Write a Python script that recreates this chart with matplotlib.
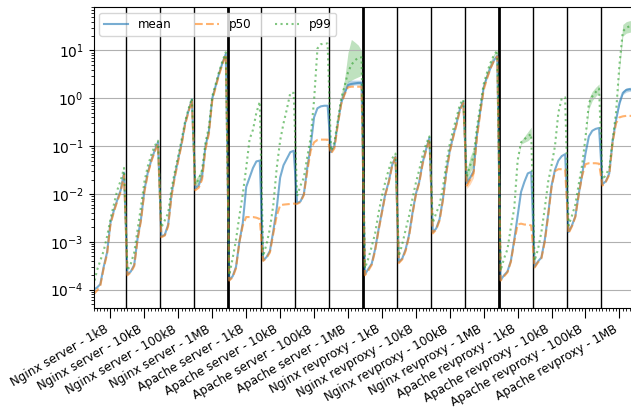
import matplotlib
matplotlib.use('Agg')
import matplotlib.pyplot as plt
import numpy as np

servers = ['Nginx server', 'Apache server', 'Nginx revproxy', 'Apache revproxy']
sizes = ['1kB', '10kB', '100kB', '1MB']
labels = [f'{s} - {z}' for s in servers for z in sizes]
n_pts = 10  # points per benchmark

# latency values, 10 points per benchmark, in label order
mean = [
    1.0e-4, 1.1e-4, 1.3e-4, 3.0e-4, 6.0e-4, 2.5e-3, 4.5e-3, 7.5e-3, 1.2e-2, 2.8e-2,
    2.1e-4, 2.4e-4, 3.3e-4, 1.2e-3, 3.0e-3, 1.2e-2, 2.8e-2, 5.0e-2, 8.0e-2, 0.12,
    1.3e-3, 1.4e-3, 2.3e-3, 1.0e-2, 2.5e-2, 5.5e-2, 0.12, 0.30, 0.55, 0.95,
    1.3e-2, 1.5e-2, 2.3e-2, 0.10, 0.20, 1.0, 1.8, 3.3, 5.5, 8.5,
    1.6e-4, 1.9e-4, 3.0e-4, 1.0e-3, 2.5e-3, 1.4e-2, 2.2e-2, 3.5e-2, 4.8e-2, 5.0e-2,
    4.1e-4, 4.8e-4, 6.5e-4, 1.7e-3, 5.0e-3, 2.2e-2, 4.0e-2, 5.5e-2, 7.5e-2, 8.0e-2,
    6.5e-3, 7.0e-3, 1.0e-2, 3.5e-2, 0.10, 0.40, 0.62, 0.68, 0.70, 0.70,
    7.5e-2, 0.10, 0.30, 0.80, 1.3, 1.9, 2.0, 2.05, 2.1, 2.1,
    2.1e-4, 2.7e-4, 3.5e-4, 7.0e-4, 1.8e-3, 4.3e-3, 1.0e-2, 1.8e-2, 4.0e-2, 6.0e-2,
    3.8e-4, 4.5e-4, 7.0e-4, 1.4e-3, 4.0e-3, 1.0e-2, 1.8e-2, 4.5e-2, 8.5e-2, 0.15,
    1.6e-3, 1.9e-3, 3.0e-3, 8.0e-3, 3.0e-2, 8.0e-2, 0.16, 0.30, 0.60, 0.85,
    1.7e-2, 2.2e-2, 3.0e-2, 0.17, 0.55, 1.7, 2.8, 4.3, 6.2, 7.8,
    1.6e-4, 2.0e-4, 2.4e-4, 4.0e-4, 1.1e-3, 3.5e-3, 1.1e-2, 1.8e-2, 2.7e-2, 2.9e-2,
    3.0e-4, 3.9e-4, 4.7e-4, 1.1e-3, 3.8e-3, 1.5e-2, 3.2e-2, 5.0e-2, 6.2e-2, 6.8e-2,
    1.6e-3, 2.2e-3, 3.4e-3, 1.0e-2, 2.5e-2, 7.0e-2, 0.16, 0.21, 0.23, 0.24,
    1.6e-2, 1.85e-2, 2.7e-2, 0.13, 0.35, 0.80, 1.3, 1.5, 1.55, 1.5,
]

p50 = [
    8.0e-5, 9.5e-5, 1.2e-4, 2.8e-4, 5.5e-4, 2.3e-3, 4.2e-3, 7.0e-3, 1.1e-2, 2.5e-2,
    2.0e-4, 2.3e-4, 3.1e-4, 1.1e-3, 2.8e-3, 1.1e-2, 2.6e-2, 4.7e-2, 7.5e-2, 0.11,
    1.25e-3, 1.35e-3, 2.1e-3, 9.0e-3, 2.3e-2, 5.0e-2, 0.11, 0.28, 0.52, 0.90,
    1.2e-2, 1.35e-2, 2.0e-2, 8.5e-2, 0.18, 0.90, 1.7, 3.1, 5.2, 8.2,
    1.55e-4, 1.8e-4, 2.8e-4, 1.0e-3, 2.2e-3, 3.3e-3, 3.3e-3, 3.3e-3, 3.2e-3, 3.0e-3,
    4.0e-4, 4.6e-4, 6.0e-4, 1.5e-3, 3.5e-3, 5.8e-3, 6.0e-3, 6.1e-3, 6.2e-3, 6.3e-3,
    6.2e-3, 6.8e-3, 9.5e-3, 3.0e-2, 8.0e-2, 0.12, 0.135, 0.137, 0.137, 0.137,
    7.0e-2, 9.0e-2, 0.28, 0.75, 1.2, 1.7, 1.75, 1.75, 1.75, 1.75,
    2.0e-4, 2.5e-4, 3.3e-4, 6.5e-4, 1.7e-3, 4.0e-3, 9.5e-3, 1.7e-2, 3.8e-2, 5.8e-2,
    3.6e-4, 4.3e-4, 6.5e-4, 1.3e-3, 3.7e-3, 9.5e-3, 1.7e-2, 4.2e-2, 8.0e-2, 0.14,
    1.5e-3, 1.8e-3, 2.8e-3, 7.5e-3, 2.8e-2, 7.5e-2, 0.15, 0.28, 0.57, 0.80,
    1.5e-2, 2.0e-2, 2.7e-2, 0.15, 0.50, 1.5, 2.6, 4.2, 6.0, 7.5,
    1.55e-4, 1.9e-4, 2.3e-4, 3.8e-4, 1.0e-3, 2.3e-3, 2.4e-3, 2.3e-3, 2.3e-3, 2.2e-3,
    2.9e-4, 3.7e-4, 4.5e-4, 1.0e-3, 3.5e-3, 1.4e-2, 3.0e-2, 3.3e-2, 3.3e-2, 3.3e-2,
    1.5e-3, 2.1e-3, 3.3e-3, 9.5e-3, 2.4e-2, 4.2e-2, 4.4e-2, 4.4e-2, 4.4e-2, 4.3e-2,
    1.5e-2, 1.8e-2, 2.5e-2, 0.12, 0.30, 0.40, 0.42, 0.43, 0.43, 0.43,
]

p99 = [
    1.2e-4, 2.5e-4, 4.0e-4, 6.5e-4, 1.3e-3, 3.0e-3, 6.0e-3, 1.2e-2, 1.9e-2, 3.5e-2,
    2.5e-4, 3.5e-4, 6.0e-4, 1.8e-3, 5.5e-3, 1.8e-2, 3.8e-2, 6.5e-2, 0.10, 0.13,
    2.0e-3, 2.8e-3, 4.0e-3, 1.3e-2, 3.0e-2, 6.5e-2, 0.14, 0.33, 0.60, 1.0,
    1.6e-2, 2.0e-2, 3.2e-2, 0.12, 0.25, 1.1, 2.0, 3.6, 6.0, 9.2,
    2.0e-4, 4.5e-4, 1.1e-3, 3.5e-3, 1.0e-2, 3.5e-2, 0.14, 0.22, 0.50, 0.85,
    5.0e-4, 9.0e-4, 1.9e-3, 6.0e-3, 3.5e-2, 0.13, 0.30, 0.60, 1.3, 1.3,
    9.0e-3, 1.5e-2, 2.2e-2, 6.0e-2, 0.15, 0.90, 11.0, 13.5, 14.0, 14.0,
    8.0e-2, 0.12, 0.35, 1.0, 1.8, 3.5, 5.0, 6.2, 7.0, 7.2,
    2.8e-4, 4.5e-4, 8.0e-4, 1.5e-3, 4.0e-3, 9.0e-3, 1.8e-2, 3.2e-2, 5.5e-2, 7.0e-2,
    5.0e-4, 9.0e-4, 1.8e-3, 3.5e-3, 8.0e-3, 1.7e-2, 3.2e-2, 6.5e-2, 0.11, 0.16,
    2.5e-3, 4.0e-3, 6.0e-3, 1.4e-2, 4.5e-2, 0.11, 0.22, 0.40, 0.75, 0.95,
    2.3e-2, 4.0e-2, 6.0e-2, 0.25, 0.70, 2.0, 3.5, 5.5, 8.0, 10.0,
    2.5e-4, 4.5e-4, 7.0e-4, 2.0e-3, 5.0e-3, 5.0e-2, 0.12, 0.14, 0.16, 0.18,
    4.0e-4, 7.0e-4, 1.6e-3, 5.0e-3, 1.8e-2, 4.0e-2, 0.10, 0.50, 1.0, 1.05,
    2.2e-3, 3.5e-3, 6.0e-3, 1.6e-2, 4.0e-2, 0.15, 0.80, 1.1, 1.35, 1.6,
    2.0e-2, 2.5e-2, 3.5e-2, 0.13, 0.50, 5.0, 25.0, 30.0, 32.0, 33.0,
]

# spread between runs, only where it is visible: segment -> (low, high)
mean_band = {
    7: ([7.5e-2, 0.10, 0.30, 0.80, 1.2, 1.8, 1.85, 1.9, 1.9, 1.9],
        [7.5e-2, 0.10, 0.30, 0.80, 1.5, 2.3, 2.4, 2.4, 2.4, 2.4]),
    15: ([1.6e-2, 1.85e-2, 2.7e-2, 0.13, 0.35, 0.70, 1.2, 1.35, 1.4, 1.4],
         [1.6e-2, 1.85e-2, 2.7e-2, 0.13, 0.35, 0.90, 1.45, 1.65, 1.7, 1.7]),
}
p50_band = {
    11: ([1.3e-2, 1.6e-2, 2.2e-2, 0.14, 0.50, 1.5, 2.6, 4.2, 6.0, 7.5],
         [1.7e-2, 2.4e-2, 3.2e-2, 0.16, 0.50, 1.5, 2.6, 4.2, 6.0, 7.5]),
}
p99_band = {
    3: ([1.4e-2, 1.7e-2, 2.8e-2, 0.11, 0.23, 1.0, 1.9, 3.4, 5.7, 8.8],
        [2.0e-2, 2.5e-2, 3.8e-2, 0.13, 0.28, 1.2, 2.1, 3.8, 6.3, 9.6]),
    7: ([8.0e-2, 0.12, 0.33, 0.90, 1.6, 2.2, 2.4, 2.6, 2.8, 3.0],
        [8.0e-2, 0.13, 0.40, 1.2, 2.5, 9.0, 17.0, 15.0, 13.0, 10.0]),
    11: ([1.8e-2, 2.8e-2, 4.0e-2, 0.20, 0.60, 1.8, 3.2, 5.0, 7.5, 9.5],
         [3.0e-2, 6.0e-2, 9.0e-2, 0.30, 0.80, 2.2, 3.8, 6.0, 8.5, 10.5]),
    12: ([2.5e-4, 4.5e-4, 7.0e-4, 2.0e-3, 5.0e-3, 5.0e-2, 0.11, 0.12, 0.13, 0.15],
         [2.5e-4, 4.5e-4, 7.0e-4, 2.0e-3, 5.0e-3, 5.0e-2, 0.13, 0.16, 0.20, 0.25]),
    14: ([2.2e-3, 3.5e-3, 6.0e-3, 1.6e-2, 4.0e-2, 0.15, 0.60, 0.90, 1.1, 1.3],
         [2.2e-3, 3.5e-3, 6.0e-3, 1.6e-2, 4.0e-2, 0.15, 1.0, 1.4, 1.7, 2.0]),
    15: ([2.0e-2, 2.5e-2, 3.5e-2, 0.13, 0.50, 4.0, 20.0, 23.0, 24.0, 25.0],
         [2.0e-2, 2.5e-2, 3.5e-2, 0.13, 0.50, 6.0, 35.0, 40.0, 42.0, 42.0]),
}


def band_edges(line, bands):
    lo, hi = list(line), list(line)
    for seg, (l, h) in bands.items():
        lo[seg * n_pts:(seg + 1) * n_pts] = l
        hi[seg * n_pts:(seg + 1) * n_pts] = h
    return lo, hi


x = np.arange(len(mean))

fig = plt.figure(figsize=(6.31, 4.11), dpi=100)
ax = fig.add_axes([93.5 / 631, 103 / 411, (633 - 93.5) / 631, 301 / 411])

# benchmark separators, thicker between server groups
for k in range(1, len(labels)):
    lw = 2 if k % 4 == 0 else 1
    ax.axvline(k * n_pts - 0.5, color='k', lw=lw)

series = [('mean', mean, mean_band, 'C0', '-'),
          ('p50', p50, p50_band, 'C1', '--'),
          ('p99', p99, p99_band, 'C2', ':')]
for name, vals, bands, col, ls in series:
    lo, hi = band_edges(vals, bands)
    ax.fill_between(x, lo, hi, color=col, alpha=0.3, lw=0)
    ax.plot(x, vals, color=col, ls=ls, alpha=0.6, label=name)

ax.set_yscale('log')
ax.grid(axis='y', which='major')
ax.set_xlim(0, len(mean) - 1)
ax.set_xticks(np.arange(len(labels)) * n_pts + 5)
ax.set_xticklabels(labels, rotation=30, ha='right', fontsize=8.6)
ax.set_xticks(x, minor=True)
ax.tick_params(axis='x', which='major', length=7)
ax.legend(loc='upper left', ncol=3, fontsize=8.6)

fig.savefig('out.png', dpi=100)
